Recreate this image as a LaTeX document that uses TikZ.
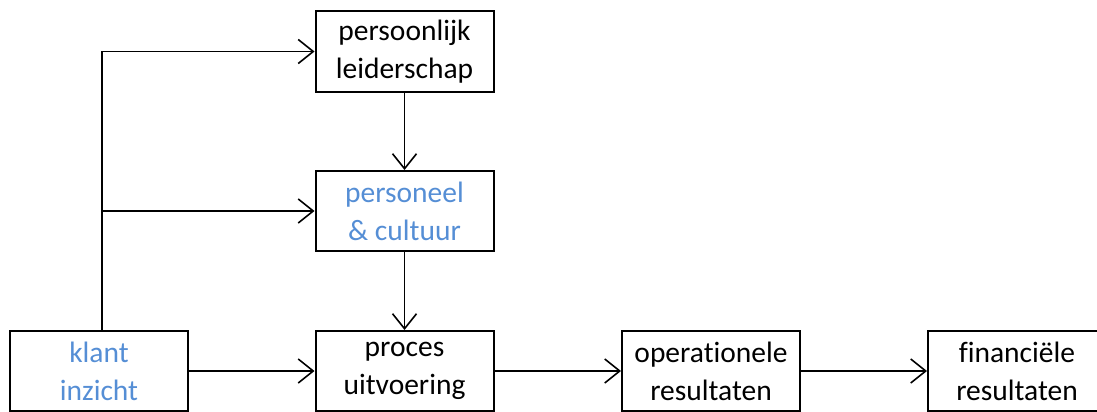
\documentclass[tikz,border=0pt]{standalone}
\usepackage{fontspec}
\setmainfont{Carlito}[Ligatures={NoCommon}]
\usetikzlibrary{arrows.meta}
\definecolor{txtblue}{RGB}{85,142,213}
\begin{document}
\begin{tikzpicture}[x=1pt,y=-1pt,
  box/.style={draw=black, line width=2pt, minimum width=178pt, minimum height=80pt, inner sep=0pt, align=center, font=\fontsize{29.5}{38}\selectfont},
  conn/.style={line width=1.6pt, -{Straight Barb[length=15pt,width=24pt,line width=1.6pt]}},
  plain/.style={line width=1.6pt}]
\clip (0,0) rectangle (1097,412);
\node[box] (pl) at (404.5,51.5) {persoonlijk\\leiderschap};
\node[box, text=txtblue] (pc) at (404.5,211) {personeel\\\& cultuur};
\node[box] (pu) at (404.5,371) {proces\\uitvoering};
\node[box, text=txtblue] (ki) at (99,371) {klant\\inzicht};
\node[box] (or) at (711,371) {operationele\\resultaten};
\node[box] (fr) at (1017,371) {financiële\\resultaten};
\coordinate (c1) at (102,51.5);
\coordinate (c2) at (102,211);
\draw[plain] (ki.north -| c1) -- (c1);
\draw[conn] (c1) -- (pl.west);
\draw[conn] (c2) -- (pc.west);
\draw[conn] (pl.south) -- (pc.north);
\draw[conn] (pc.south) -- (pu.north);
\draw[conn] (ki.east) -- (pu.west);
\draw[conn] (pu.east) -- (or.west);
\draw[conn] (or.east) -- (fr.west);
\end{tikzpicture}
\end{document}
